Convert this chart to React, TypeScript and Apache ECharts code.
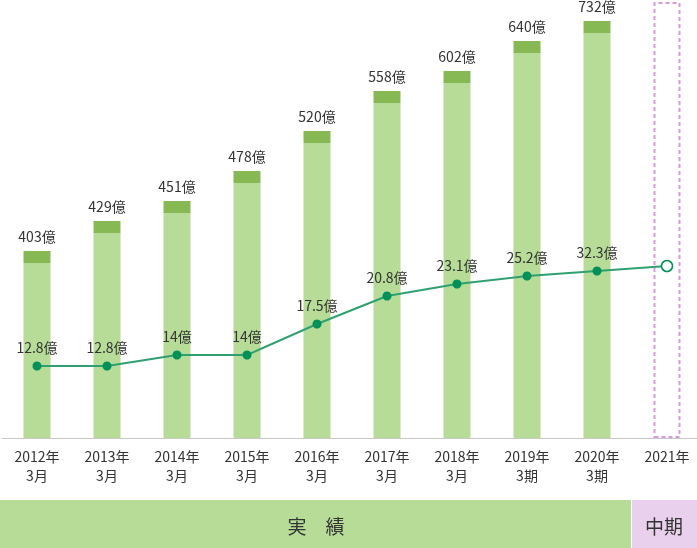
import React, { useEffect, useRef } from "react";
import * as echarts from "echarts";

// Category labels (x axis)
const categories = [
  "2012年\n3月", "2013年\n3月", "2014年\n3月", "2015年\n3月", "2016年\n3月",
  "2017年\n3月", "2018年\n3月", "2019年\n3期", "2020年\n3期", "2021年",
];
// Sales (億) as printed above the bars
const salesValues = [403, 429, 451, 478, 520, 558, 602, 640, 732];
// Drawn bar heights (the chart is not drawn to scale)
const salesHeights = [187, 217, 237, 267, 307, 347, 367, 397, 417];
// Profit (億) as printed above the points
const profitValues = [12.8, 12.8, 14, 14, 17.5, 20.8, 23.1, 25.2, 32.3];
// Drawn heights of the line points (last = 2021 target)
const profitHeights = [72, 72, 83, 83, 114, 142, 154, 162, 167, 172];
// Height of the dashed 2021 placeholder bar
const targetHeight = 436;
const capHeight = 12;

const FONT = "'Noto Sans CJK JP', 'Noto Sans', sans-serif";

export default function App() {
  const ref = useRef<HTMLDivElement>(null);
  useEffect(() => {
    if (!ref.current) return;
    const chart = echarts.init(ref.current, undefined, { renderer: "svg" });
    const bodyData: any[] = salesHeights.map((h) => h - capHeight);
    bodyData.push({
      value: targetHeight,
      itemStyle: {
        color: "rgba(0,0,0,0)",
        borderColor: "#d69bda",
        borderWidth: 2,
        borderType: [4, 3],
      },
    });
    const capData: any[] = salesHeights.map(() => capHeight);
    capData.push("-");
    const lineData: any[] = profitHeights.map((h, i) =>
      i < profitValues.length
        ? h
        : {
            value: h,
            symbol: "circle",
            symbolSize: 11,
            itemStyle: { color: "#ffffff", borderColor: "#009058", borderWidth: 1.5 },
            label: { show: false },
          }
    );
    chart.setOption({
      animation: false,
      textStyle: { fontFamily: FONT },
      grid: { left: 2, top: 0, width: 700, height: 438, containLabel: false },
      xAxis: {
        type: "category",
        data: categories,
        axisLine: { show: true, lineStyle: { color: "#c8c8c8", width: 1 } },
        axisTick: { show: false },
        axisLabel: {
          color: "#333333",
          fontSize: 14,
          lineHeight: 19,
          margin: 8,
          fontFamily: FONT,
          interval: 0,
        },
      },
      yAxis: {
        type: "value",
        min: 0,
        max: 438,
        show: false,
        splitLine: { show: false },
      },
      series: [
        {
          type: "bar",
          stack: "s",
          data: bodyData,
          barWidth: 27,
          itemStyle: { color: "#b6dc98" },
          silent: true,
        },
        {
          type: "bar",
          stack: "s",
          data: capData,
          barWidth: 27,
          itemStyle: { color: "#86b853" },
          label: {
            show: true,
            position: "top",
            distance: 8,
            color: "#333333",
            fontSize: 14,
            fontFamily: FONT,
            formatter: (p: any) => salesValues[p.dataIndex] + "億",
          },
        },
        {
          type: "line",
          data: lineData,
          symbol: "circle",
          symbolSize: 9,
          lineStyle: { color: "#30a070", width: 2 },
          itemStyle: { color: "#009058" },
          z: 5,
          label: {
            show: true,
            position: "top",
            distance: 8,
            color: "#333333",
            fontSize: 14,
            fontFamily: FONT,
            formatter: (p: any) =>
              p.dataIndex < profitValues.length ? profitValues[p.dataIndex] + "億" : "",
          },
        },
      ],
      graphic: [
        {
          type: "rect",
          shape: { x: 0, y: 500, width: 631, height: 48 },
          style: { fill: "#b6dc98" },
        },
        {
          type: "rect",
          shape: { x: 632, y: 500, width: 65, height: 48 },
          style: { fill: "#e9d0ec" },
        },
        {
          type: "text",
          x: 316,
          y: 525,
          style: {
            text: "実　績",
            fill: "#333333",
            fontSize: 19,
            fontFamily: FONT,
            align: "center",
            verticalAlign: "middle",
          },
        },
        {
          type: "text",
          x: 664,
          y: 525,
          style: {
            text: "中期",
            fill: "#333333",
            fontSize: 19,
            fontFamily: FONT,
            align: "center",
            verticalAlign: "middle",
          },
        },
      ],
    });
    return () => chart.dispose();
  }, []);
  return (
    <div style={{ position: "fixed", left: 0, top: 0, width: 697, height: 548, overflow: "hidden" }}>
      <div ref={ref} style={{ width: 702, height: 548 }} />
    </div>
  );
}
